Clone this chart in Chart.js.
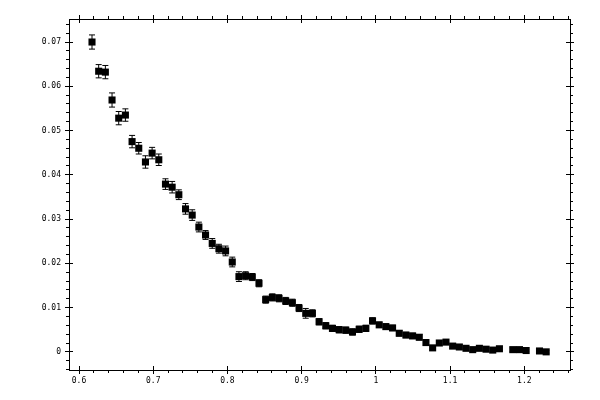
<!DOCTYPE html>
<html>
<head>
<meta charset="utf-8">
<script src="https://cdn.jsdelivr.net/npm/chart.js@4"></script>
<style>
  html, body { margin: 0; padding: 0; background: #fff; }
</style>
</head>
<body>
<canvas id="chart" width="600" height="400"></canvas>
<script>
const xVals = [
  0.6175, 0.6265, 0.6355, 0.6445, 0.6535, 0.6625, 0.6715, 0.6805, 0.6895, 0.6985,
  0.7075, 0.7165, 0.7255, 0.7345, 0.7435, 0.7525, 0.7615, 0.7705, 0.7795, 0.7885,
  0.7975, 0.8065, 0.8155, 0.8245, 0.8335, 0.8425, 0.8515, 0.8605, 0.8695, 0.8785,
  0.8875, 0.8965, 0.9055, 0.9145, 0.9235, 0.9325, 0.9415, 0.9505, 0.9595, 0.9685,
  0.9775, 0.9865, 0.9955, 1.0045, 1.0135, 1.0225, 1.0315, 1.0405, 1.0495, 1.0585,
  1.0675, 1.0765, 1.0855, 1.0945, 1.1035, 1.1125, 1.1215, 1.1305, 1.1395, 1.1485,
  1.1575, 1.1665, 1.1845, 1.1935, 1.2025, 1.2205, 1.2295
];
const yVals = [
  0.0700, 0.0634, 0.0632, 0.0569, 0.0528, 0.0535, 0.0475, 0.0460, 0.0429, 0.0449,
  0.0434, 0.0379, 0.0372, 0.0355, 0.0323, 0.0309, 0.0282, 0.0264, 0.0245, 0.0233,
  0.0228, 0.0203, 0.0170, 0.0172, 0.0169, 0.0155, 0.0118, 0.0123, 0.0121, 0.0115,
  0.0111, 0.0099, 0.0087, 0.0087, 0.0068, 0.0059, 0.0053, 0.0050, 0.0049, 0.0045,
  0.0051, 0.0053, 0.0070, 0.0061, 0.0057, 0.0054, 0.0042, 0.0038, 0.0036, 0.0033,
  0.0021, 0.0009, 0.0020, 0.0022, 0.0013, 0.0011, 0.0008, 0.0005, 0.0008, 0.0006,
  0.0004, 0.0007, 0.0005, 0.0005, 0.0003, 0.0002, 0.0000
];
const yErr = [
  0.0016, 0.0015, 0.0015, 0.0016, 0.0015, 0.0014, 0.0014, 0.0013, 0.0014, 0.0013,
  0.0013, 0.0012, 0.0013, 0.0011, 0.0012, 0.0012, 0.0011, 0.0010, 0.0011, 0.0010,
  0.0011, 0.0011, 0.0011, 0.0009, 0.0008, 0.0008, 0.0008, 0.0008, 0.0008, 0.0008,
  0.0008, 0.0008, 0.0011, 0.0008, 0.0007, 0.0007, 0.0007, 0.0007, 0.0007, 0.0007,
  0.0007, 0.0007, 0.0007, 0.0006, 0.0006, 0.0006, 0.0006, 0.0006, 0.0006, 0.0006,
  0.0005, 0.0005, 0.0005, 0.0005, 0.0005, 0.0005, 0.0005, 0.0004, 0.0004, 0.0004,
  0.0004, 0.0004, 0.0004, 0.0004, 0.0003, 0.0003, 0.0003
];
const xTickLabels = ['0.6', '0.7', '0.8', '0.9', '1', '1.1', '1.2'];
const yTickLabels = ['0', '0.01', '0.02', '0.03', '0.04', '0.05', '0.06', '0.07'];

const points = xVals.map((x, i) => ({ x: x, y: yVals[i] }));
// error bars: low, high, then a gap
const errData = [];
xVals.forEach((x, i) => {
  errData.push({ x: x, y: yVals[i] - yErr[i] });
  errData.push({ x: x, y: yVals[i] + yErr[i] });
  errData.push({ x: x, y: null });
});

function tickLabel(v, list) {
  const s = String(+v.toFixed(4));
  return list.includes(s) ? s : '';
}

const tickFont = { family: 'DejaVu Sans Mono', size: 8 };
const gridOpts = {
  display: true, drawOnChartArea: false, drawTicks: true,
  tickLength: 3, color: '#000', tickColor: '#000', lineWidth: 1
};
const borderOpts = { display: true, color: '#000', width: 1 };

// major ticks cross the frame and stick out a bit further than the minor ones
const majorTicks = {
  id: 'majorTicks',
  afterDraw(chart) {
    const { ctx, chartArea: a, scales } = chart;
    const al = p => Math.round(p - 0.5) + 0.5;
    ctx.save();
    ctx.strokeStyle = '#000';
    ctx.lineWidth = 1;
    ctx.beginPath();
    xTickLabels.forEach(t => {
      const px = al(scales.x.getPixelForValue(+t));
      ctx.moveTo(px, a.bottom - 4); ctx.lineTo(px, a.bottom + 4);
      ctx.moveTo(px, a.top + 4); ctx.lineTo(px, a.top - 4);
    });
    yTickLabels.forEach(t => {
      const py = al(scales.y.getPixelForValue(+t));
      ctx.moveTo(a.left - 4, py); ctx.lineTo(a.left + 4, py);
      ctx.moveTo(a.right + 4, py); ctx.lineTo(a.right - 4, py);
    });
    ctx.stroke();
    ctx.restore();
  }
};

new Chart(document.getElementById('chart'), {
  type: 'scatter',
  data: {
    datasets: [
      {
        data: errData,
        showLine: true,
        spanGaps: false,
        borderColor: '#000',
        borderWidth: 1,
        pointStyle: 'line',
        pointRadius: 3,
        pointBorderColor: '#000',
        pointBorderWidth: 1
      },
      {
        data: points,
        pointStyle: 'rect',
        pointRadius: 5,
        pointBackgroundColor: '#000',
        pointBorderWidth: 0
      }
    ]
  },
  options: {
    responsive: false,
    animation: false,
    devicePixelRatio: 1,
    events: [],
    layout: { padding: 0 },
    plugins: { legend: { display: false }, tooltip: { enabled: false } },
    scales: {
      x: {
        type: 'linear', position: 'bottom', min: 0.5865, max: 1.2616,
        afterFit: s => { s.height = 30; },
        border: borderOpts, grid: gridOpts,
        ticks: {
          stepSize: 0.02, includeBounds: false, autoSkip: false, maxRotation: 0,
          padding: 3, color: '#000', font: tickFont,
          callback: v => tickLabel(v, xTickLabels)
        }
      },
      x2: {
        type: 'linear', position: 'top', min: 0.5865, max: 1.2616,
        afterFit: s => { s.height = 19; },
        border: borderOpts, grid: gridOpts,
        ticks: { display: false, stepSize: 0.02, includeBounds: false }
      },
      y: {
        type: 'linear', position: 'left', min: -0.0041, max: 0.0752,
        afterFit: s => { s.width = 69; },
        border: borderOpts, grid: gridOpts,
        ticks: {
          stepSize: 0.002, includeBounds: false, autoSkip: false,
          padding: 5, color: '#000', font: tickFont,
          callback: v => tickLabel(v, yTickLabels)
        }
      },
      y2: {
        type: 'linear', position: 'right', min: -0.0041, max: 0.0752,
        afterFit: s => { s.width = 30; },
        border: borderOpts, grid: gridOpts,
        ticks: { display: false, stepSize: 0.002, includeBounds: false }
      }
    }
  },
  plugins: [majorTicks]
});
</script>
</body>
</html>
